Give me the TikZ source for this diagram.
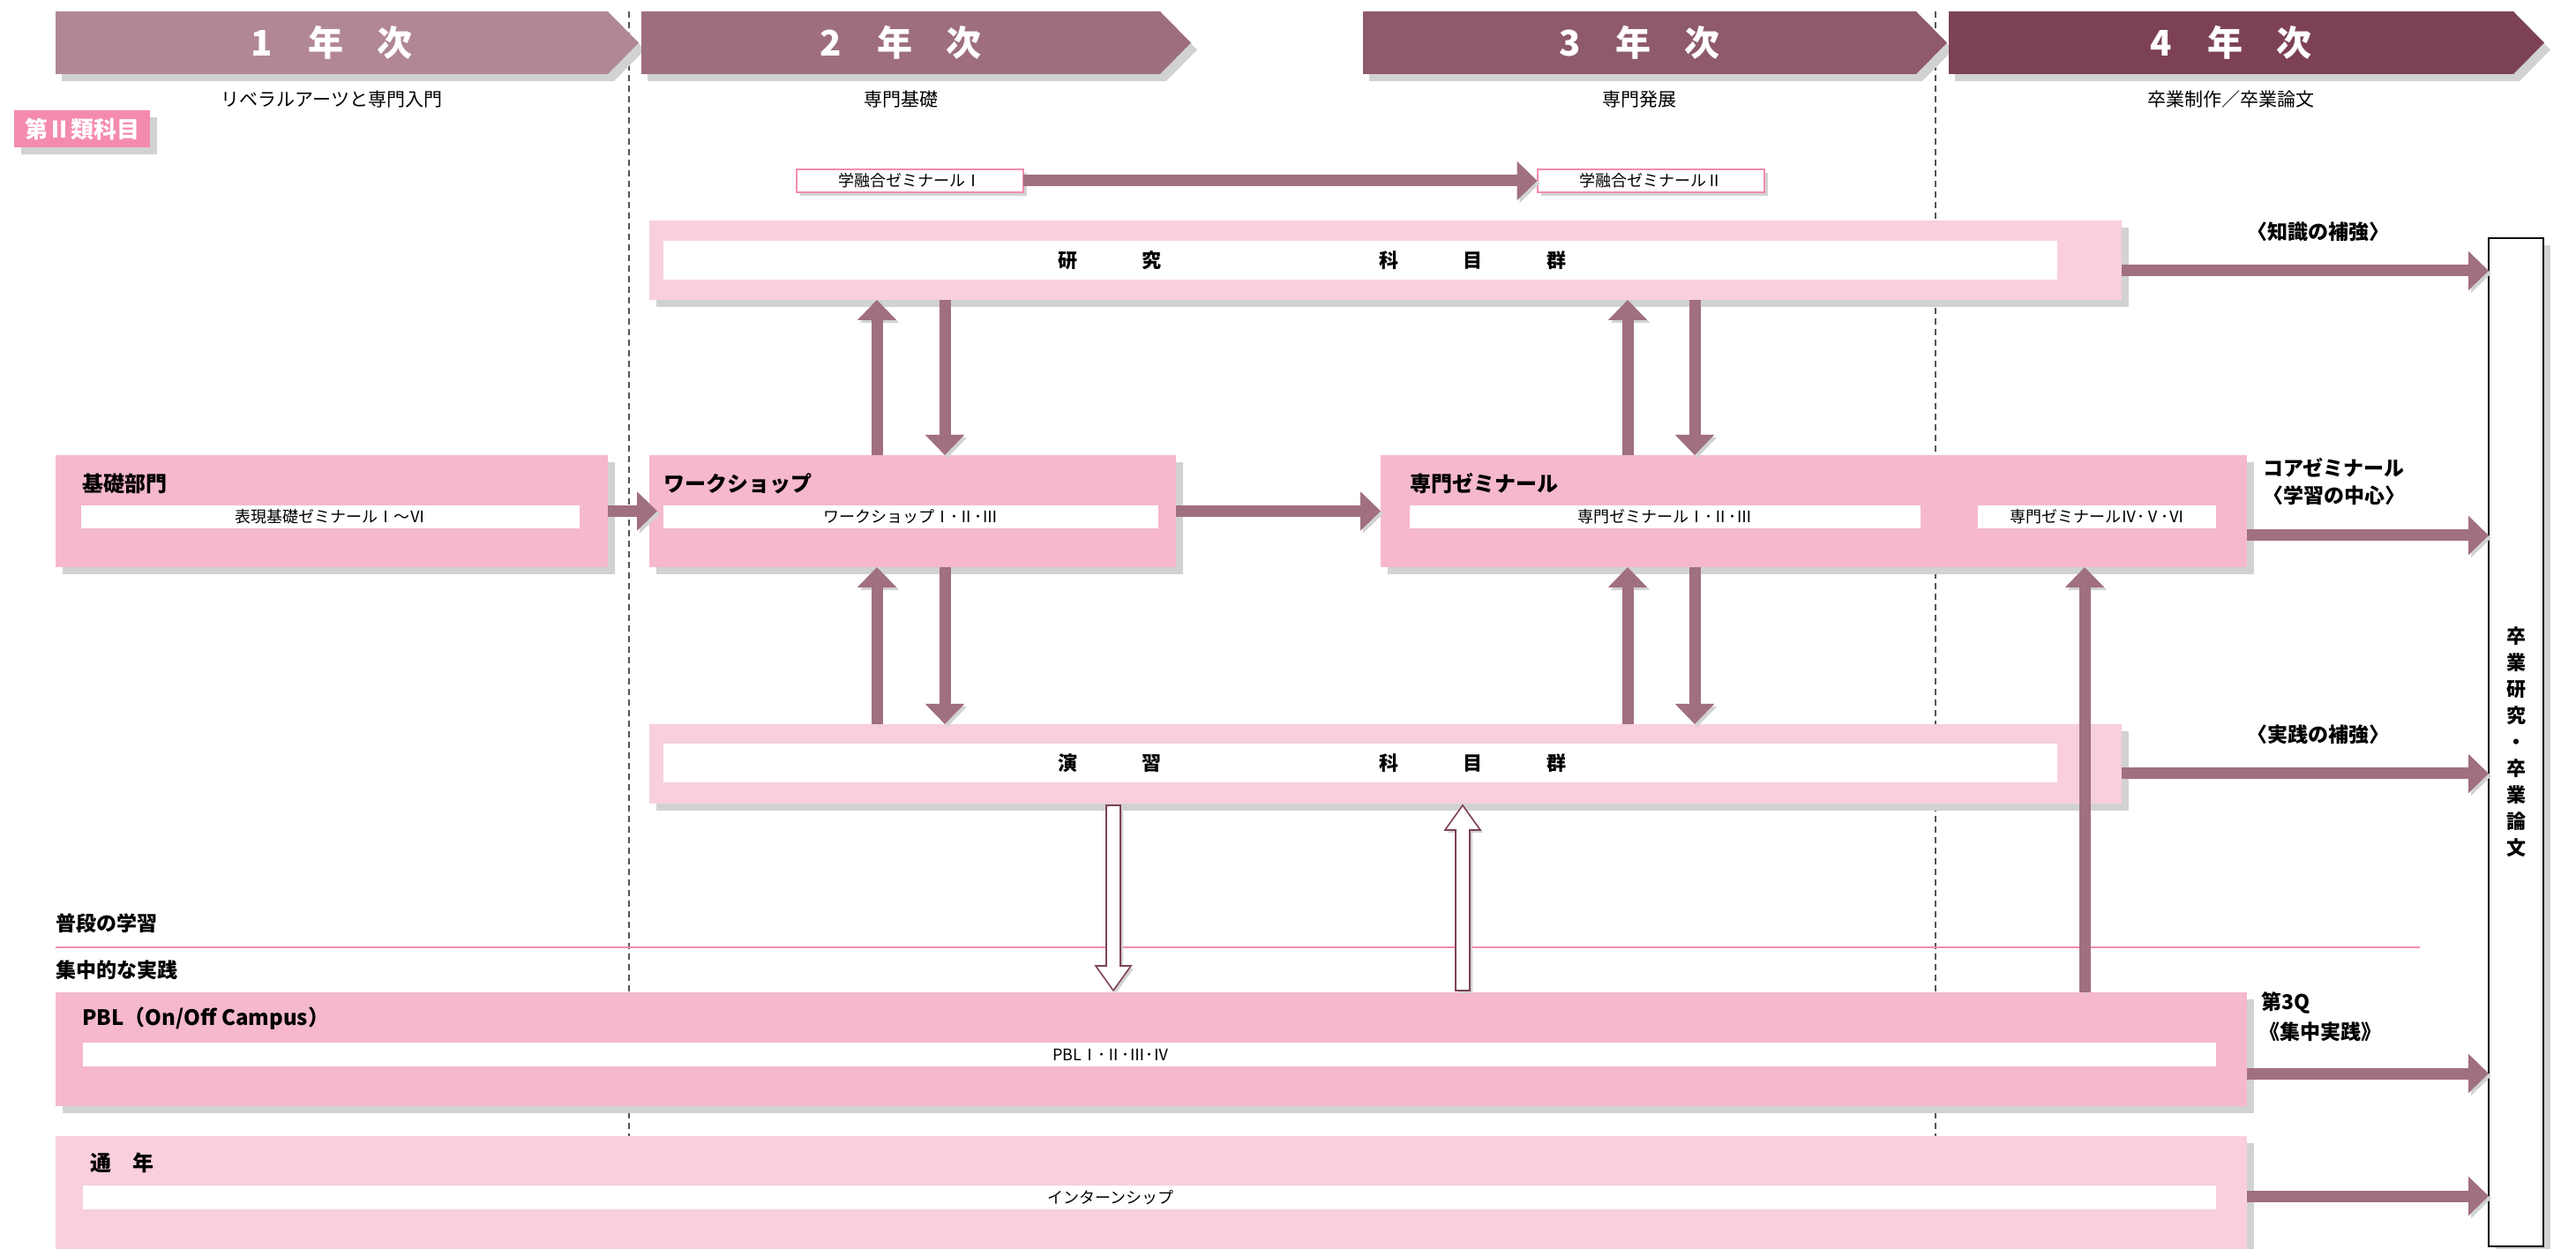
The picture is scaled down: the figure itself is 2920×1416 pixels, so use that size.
\documentclass[tikz,border=0pt]{standalone}
\usepackage{fontspec}
\setmainfont{Noto Sans CJK JP}
\usepackage{tikz}
\usetikzlibrary{positioning,arrows.meta,shadows,calc}

\definecolor{yrone}{HTML}{B28795}
\definecolor{yrtwo}{HTML}{9E6E80}
\definecolor{yrthree}{HTML}{8E5A6C}
\definecolor{yrfour}{HTML}{7D4157}
\definecolor{flowc}{HTML}{A06F80}
\definecolor{boxpink}{HTML}{F5B8CC}
\definecolor{boxlight}{HTML}{F8CFDB}
\definecolor{tagpink}{HTML}{F48BAF}
\definecolor{shadowgray}{HTML}{D1D2D4}
\definecolor{dashgray}{HTML}{555555}

\tikzset{
  boxshadow/.style={drop shadow={shadow xshift=4pt,shadow yshift=-4pt,fill=shadowgray,opacity=1}},
  mainbox/.style={boxshadow, fill=boxpink, anchor=north west, inner sep=0pt, outer sep=0pt},
  lightbox/.style={mainbox, fill=boxlight},
  inbox/.style={fill=white, inner sep=0pt, outer sep=0pt, minimum height=13pt,
    font=\fontsize{9}{9}\selectfont},
  boxtitle/.style={anchor=west, inner sep=0pt, font=\fontsize{12}{12}\selectfont\bfseries},
  sidenote/.style={anchor=west, inner sep=0pt, font=\fontsize{11.5}{11.5}\selectfont\bfseries},
  yeartext/.style={text=white, inner sep=0pt, font=\fontsize{20}{20}\selectfont\bfseries},
  subtitle/.style={inner sep=0pt, font=\fontsize{10.5}{10.5}\selectfont},
  tag/.style={fill=tagpink, text=white, anchor=north west, inner sep=0pt, minimum width=77pt,
    minimum height=21pt, font=\fontsize{13}{13}\selectfont\bfseries, boxshadow},
  seminar/.style={draw=tagpink, line width=1pt, fill=white, inner sep=0pt, outer sep=0pt,
    minimum width=128.5pt, minimum height=13pt, font=\fontsize{9}{9}\selectfont,
    drop shadow={shadow xshift=2pt,shadow yshift=-2pt,fill=shadowgray,opacity=1}},
  endbox/.style={draw=black, line width=1pt, fill=white, anchor=north west, inner sep=0pt,
    outer sep=0pt, minimum width=31pt, minimum height=571.5pt, boxshadow},
  flow/.style={draw=flowc, line width=6.5pt, -{Triangle[length=11.5pt,width=21.5pt]},
    preaction={draw=shadowgray, transform canvas={xshift=1.5pt,yshift=-1.5pt}}},
  hollow/.style={draw=yrfour, line width=0.8pt, fill=white,
    preaction={fill=shadowgray, transform canvas={xshift=1.5pt,yshift=-1.5pt}}}
}

\begin{document}
\begin{tikzpicture}[x=0.5pt, y=-0.5pt]
  \useasboundingbox (0,0) rectangle (2920,1416);

  \draw[dashgray, line width=0.7pt, dash pattern=on 3.5pt off 2.5pt] (713,13) -- (713,1416);
  \draw[dashgray, line width=0.7pt, dash pattern=on 3.5pt off 2.5pt] (2194,13) -- (2194,1416);

  \foreach \l/\r/\c/\n/\s in {63/689/yrone/1/リベラルアーツと専門入門, 727/1315/yrtwo/2/専門基礎,
      1545/2172/yrthree/3/専門発展, 2209/2849/yrfour/4/卒業制作／卒業論文}{
    \fill[shadowgray] (\l+7,21) -- (\r+7,21) -- (\r+42,56.5) -- (\r+7,92) -- (\l+7,92) -- cycle;
    \fill[\c] (\l,13) -- (\r,13) -- (\r+35,48.5) -- (\r,84) -- (\l,84) -- cycle;
    \node[yeartext] (year\n) at ({(\l+\r)/2},48.5) {\n\hspace{20pt}年\hspace{19pt}次};
    \node[subtitle] (sub\n) at ({(\l+\r)/2},113) {\s};
  }

  \node[tag] (tag) at (16,125) {第Ⅱ類科目};

  \node[seminar] (gakuyu1) at (1031.5,205) {学融合ゼミナールⅠ};
  \node[seminar] (gakuyu2) at (1871,205) {学融合ゼミナールⅡ};

  \node[lightbox, minimum width=834.5pt, minimum height=45pt] (kenkyu) at (736,250) {};
  \node[inbox, minimum width=790pt, minimum height=22pt, font=\fontsize{11}{11}\selectfont\bfseries]
    (kenkyuin) at (1542,295) {研\hspace{36.5pt}究\hspace{123.5pt}科\hspace{36.5pt}目\hspace{36.5pt}群\hspace{55pt}\mbox{}};

  \node[mainbox, minimum width=313pt, minimum height=63.5pt] (kiso) at (63,516) {};
  \node[boxtitle] (kisotitle) at (93,548) {基礎部門};
  \node[inbox, minimum width=282.5pt] (kisoin) at (374.5,586) {表現基礎ゼミナールⅠ～Ⅵ};

  \node[mainbox, minimum width=298.5pt, minimum height=63.5pt] (ws) at (736,516) {};
  \node[boxtitle] (wstitle) at (752,548) {ワークショップ};
  \node[inbox, minimum width=280.5pt] (wsin) at (1032.5,586) {ワークショップⅠ･Ⅱ･Ⅲ};

  \node[mainbox, minimum width=491pt, minimum height=63.5pt] (senmon) at (1565,516) {};
  \node[boxtitle] (senmontitle) at (1598,548) {専門ゼミナール};
  \node[inbox, minimum width=289.5pt] (senmonin1) at (1887.5,586) {専門ゼミナールⅠ･Ⅱ･Ⅲ};
  \node[inbox, minimum width=135pt] (senmonin2) at (2377,586) {専門ゼミナールⅣ･Ⅴ･Ⅵ};

  \node[lightbox, minimum width=834.5pt, minimum height=45pt] (enshu) at (736,821) {};
  \node[inbox, minimum width=790pt, minimum height=22pt, font=\fontsize{11}{11}\selectfont\bfseries]
    (enshuin) at (1542,865) {演\hspace{36.5pt}習\hspace{123.5pt}科\hspace{36.5pt}目\hspace{36.5pt}群\hspace{55pt}\mbox{}};

  \node[sidenote] (futsu) at (63,1047) {普段の学習};
  \draw[tagpink, line width=1.2pt] (63,1074) -- (2743,1074);
  \node[sidenote] (shuchu) at (63,1100) {集中的な実践};

  \node[mainbox, minimum width=1242pt, minimum height=64.5pt] (pbl) at (63,1125) {};
  \node[boxtitle] (pbltitle) at (93,1155) {PBL（On/Off Campus）};
  \node[inbox, minimum width=1209pt, minimum height=13.5pt] (pblin) at (1303,1195.5) {PBLⅠ･Ⅱ･Ⅲ･Ⅳ\hspace{44pt}\mbox{}};

  \node[lightbox, minimum width=1242pt, minimum height=66pt] (tsunen) at (63,1288) {};
  \node[boxtitle] (tsunentitle) at (102,1318) {通　年};
  \node[inbox, minimum width=1209pt, minimum height=13.5pt] (tsunenin) at (1303,1357.5) {インターンシップ\hspace{44pt}\mbox{}};

  \node[endbox] (sotsu) at (2821,270) {};
  \node[align=center, inner sep=0pt, font=\fontsize{11}{15}\selectfont\bfseries] (sotsutext) at (sotsu.center)
    {卒\\業\\研\\究\\・\\卒\\業\\論\\文};

  \node[sidenote, anchor=center] (chishiki) at (2628,263) {〈知識の補強〉};
  \node[sidenote] (core) at (2565,530) {コアゼミナール};
  \node[sidenote] (corecenter) at (2565,562) {〈学習の中心〉};
  \node[sidenote, anchor=center] (jissen) at (2628,833) {〈実践の補強〉};
  \node[sidenote] (q3) at (2563,1137) {第3Q};
  \node[sidenote] (q3focus) at (2561,1170) {《集中実践》};

  \coordinate (colA) at (994,0);
  \coordinate (colB) at (1071,0);
  \coordinate (colC) at (1845,0);
  \coordinate (colD) at (1921,0);
  \coordinate (colE) at (2363,0);
  \coordinate (colF) at (1262,0);
  \coordinate (colG) at (1658,0);
  \coordinate (rowA) at (0,307);
  \coordinate (rowB) at (0,607);
  \coordinate (rowC) at (0,877);
  \coordinate (rowD) at (0,1217);
  \coordinate (rowE) at (0,1356);

  \draw[flow] (gakuyu1) -- (gakuyu2);
  \draw[flow] (kiso) -- ([xshift=4.5pt]ws.west);
  \draw[flow] (ws) -- (senmon);

  \draw[flow] (colA |- ws.north) -- (colA |- kenkyu.south);
  \draw[flow] (colB |- kenkyu.south) -- (colB |- ws.north);
  \draw[flow] (colA |- enshu.north) -- (colA |- ws.south);
  \draw[flow] (colB |- ws.south) -- (colB |- enshu.north);
  \draw[flow] (colC |- senmon.north) -- (colC |- kenkyu.south);
  \draw[flow] (colD |- kenkyu.south) -- (colD |- senmon.north);
  \draw[flow] (colC |- enshu.north) -- (colC |- senmon.south);
  \draw[flow] (colD |- senmon.south) -- (colD |- enshu.north);
  \draw[flow] (colE |- pbl.north) -- (colE |- senmon.south);

  \draw[flow] (rowA -| kenkyu.east) -- (rowA -| sotsu.west);
  \draw[flow] (rowB -| senmon.east) -- (rowB -| sotsu.west);
  \draw[flow] (rowC -| enshu.east) -- (rowC -| sotsu.west);
  \draw[flow] (rowD -| pbl.east) -- (rowD -| sotsu.west);
  \draw[flow] (rowE -| tsunen.east) -- (rowE -| sotsu.west);

  \draw[hollow] let \p1=(colF |- enshu.south), \p2=(colF |- pbl.north) in
    (\x1-4pt,\y1-1pt) -- (\x1+4pt,\y1-1pt) -- (\x1+4pt,\y2+15pt) -- (\x1+10pt,\y2+15pt)
    -- (\x1,\y2+1pt) -- (\x1-10pt,\y2+15pt) -- (\x1-4pt,\y2+15pt) -- cycle;
  \draw[hollow] let \p1=(colG |- pbl.north), \p2=(colG |- enshu.south) in
    (\x1-4pt,\y1+1pt) -- (\x1+4pt,\y1+1pt) -- (\x1+4pt,\y2-15pt) -- (\x1+10pt,\y2-15pt)
    -- (\x1,\y2-1pt) -- (\x1-10pt,\y2-15pt) -- (\x1-4pt,\y2-15pt) -- cycle;
\end{tikzpicture}
\end{document}
